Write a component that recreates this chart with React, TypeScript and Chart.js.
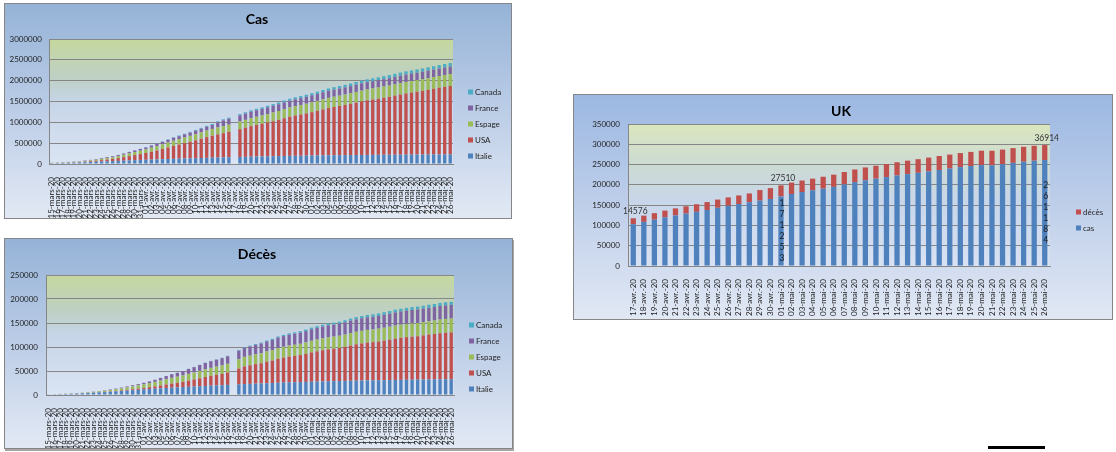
import { useEffect, useRef } from "react"
import { Chart, registerables } from "chart.js"

Chart.register(...registerables)

// categories (15 March -> 26 May, one empty day on 17 April)
const jours = [
  "15-mars-20", "16-mars-20", "17-mars-20", "18-mars-20", "19-mars-20", "20-mars-20", "21-mars-20", "22-mars-20", "23-mars-20",
  "24-mars-20", "25-mars-20", "26-mars-20", "27-mars-20", "28-mars-20", "29-mars-20", "30-mars-20", "31-mars-20",
  "01-avr.-20", "02-avr.-20", "03-avr.-20", "04-avr.-20", "05-avr.-20", "06-avr.-20", "07-avr.-20", "08-avr.-20", "09-avr.-20",
  "10-avr.-20", "11-avr.-20", "12-avr.-20", "13-avr.-20", "14-avr.-20", "15-avr.-20", "16-avr.-20", "17-avr.-20", "18-avr.-20",
  "19-avr.-20", "20-avr.-20", "21-avr.-20", "22-avr.-20", "23-avr.-20", "24-avr.-20", "25-avr.-20", "26-avr.-20", "27-avr.-20",
  "28-avr.-20", "29-avr.-20", "30-avr.-20",
  "01-mai-20", "02-mai-20", "03-mai-20", "04-mai-20", "05-mai-20", "06-mai-20", "07-mai-20", "08-mai-20", "09-mai-20",
  "10-mai-20", "11-mai-20", "12-mai-20", "13-mai-20", "14-mai-20", "15-mai-20", "16-mai-20", "17-mai-20", "18-mai-20",
  "19-mai-20", "20-mai-20", "21-mai-20", "22-mai-20", "23-mai-20", "24-mai-20", "25-mai-20", "26-mai-20",
]

// Cas
const italieCas = [
  17660, 21157, 24747, 27980, 31506, 35713, 41035, 47021, 53578, 59138, 63927, 69176, 74386, 80589, 86498, 92472, 97689,
  101739, 105792, 110574, 115242, 119827, 124632, 128948, 132547, 135586, 139422, 143626, 147577, 152271, 156363, 159516, 162488,
  null, 168941, 172434, 175925, 178972, 181228, 183957, 187327, 189973, 192994, 195351, 197675, 199414, 201505, 203591, 205463,
  207428, 209328, 210717, 211938, 213013, 214457, 215858, 217185, 218268, 219070, 219814, 221216, 222104, 223096, 223885, 224760,
  225435, 225886, 226699, 227364, 228006, 228658, 229327, 229858,
]
const usaCas = [
  2179, 2726, 3499, 4632, 6421, 7786, 13680, 19101, 25493, 33746, 43667, 53740, 65778, 83836, 101657, 121465, 140909,
  161831, 188172, 213242, 243622, 275367, 308650, 336802, 366317, 397121, 428654, 462780, 496535, 526396, 555313, 580619, 607670,
  null, 667801, 699706, 732197, 758809, 784326, 811865, 840351, 869170, 905358, 938154, 965785, 988197, 1012582, 1039909, 1069424,
  1103461, 1132539, 1158040, 1180375, 1204351, 1229331, 1257023, 1283929, 1309550, 1329260, 1347881, 1369376, 1390406, 1417774,
  1442824, 1467820, 1486757, 1508308, 1528568, 1551853, 1577147, 1600937, 1622612, 1643246,
]
const espagneCas = [
  5232, 6391, 7798, 9942, 11748, 13910, 17963, 20410, 25374, 28603, 35136, 39885, 49515, 57786, 65719, 73235, 80110,
  87956, 95923, 104118, 112065, 119199, 126168, 131646, 136675, 141942, 148220, 153222, 158273, 163027, 166831, 170099, 172541,
  null, 182816, 188068, 191726, 195944, 200210, 204178, 208389, 213024, 219764, 223759, 226629, 229422, 232128, 236899, 239639,
  242988, 245567, 247122, 248301, 250561, 253682, 256855, 260117, 262783, 264663, 268143, 269520, 271095, 272646, 274367, 276505,
  277719, 278188, 278803, 279524, 280117, 281904, 282370, 282852,
]
const franceCas = [
  3667, 4480, 5423, 6633, 7730, 9134, 10995, 12726, 14431, 16214, 20123, 22622, 25600, 29551, 33402, 38105, 40708,
  45170, 52827, 57749, 59929, 65202, 69500, 71412, 75343, 79163, 83057, 87366, 91738, 94863, 121712, 136779, 143303,
  null, 147863, 149149, 155193, 156357, 157125, 159426, 160479, 161845, 162220, 162942, 163488, 164797, 166050, 167053, 167886,
  168518, 168925, 169583, 170694, 171324, 172465, 173971, 174318, 174758, 175027, 175981, 176712, 177423, 178225, 178994, 179630,
  179693, 180051, 180933, 181700, 182036, 182219, 182584, 182709,
]
const canadaCas = [
  154, 200, 252, 415, 478, 657, 800, 943, 1277, 1469, 2088, 2790, 3251, 4042, 4682, 5576, 6280,
  7398, 8527, 9560, 11284, 12437, 12978, 15756, 16563, 17872, 19141, 20654, 22059, 23316, 24298, 25680, 27035,
  null, 30106, 31927, 33383, 35056, 36829, 38422, 40190, 42110, 43888, 45354, 46895, 48033, 49616, 51150, 52865,
  54457, 56343, 57926, 59474, 60772, 62046, 63496, 64922, 66434, 67702, 68918, 70091, 71264, 72419, 73568, 74613,
  75864, 77002, 78072, 79101, 80142, 81324, 82480, 83621,
]

// Décès
const italieDeces = [
  1266, 1441, 1809, 2158, 2503, 2978, 3405, 4032, 4825, 5476, 6077, 6820, 7503, 8215, 9134, 10023, 10779,
  11591, 12428, 13155, 13915, 14681, 15362, 15887, 16523, 17127, 17669, 18279, 18849, 19468, 19899, 20465, 21067,
  null, 22170, 22745, 23227, 23660, 24114, 24648, 25085, 25549, 25969, 26384, 26644, 26977, 27359, 27682, 27967,
  28236, 28710, 28884, 29079, 29315, 29684, 29958, 30201, 30395, 30560, 30739, 30911, 31106, 31368, 31610, 31763,
  31908, 32007, 32169, 32330, 32486, 32616, 32735, 32785,
]
const usaDeces = [
  47, 54, 63, 85, 108, 118, 200, 244, 307, 427, 552, 706, 942, 1209, 1581, 2026, 2467,
  2978, 3873, 4757, 5926, 7087, 8407, 9619, 10783, 12722, 14695, 16478, 18586, 20463, 22020, 23529, 25832,
  null, 32916, 36773, 38664, 40661, 42094, 44845, 46622, 49954, 51949, 53755, 54881, 56219, 58355, 60967, 62996,
  64943, 66369, 67682, 68922, 71064, 73431, 75662, 77180, 78795, 79526, 80682, 82356, 84119, 85898, 87530, 88754,
  89562, 90347, 91921, 93439, 94702, 95979, 97087, 97720,
]
const espagneDeces = [
  133, 195, 289, 342, 533, 623, 830, 1043, 1375, 1772, 2311, 2808, 3647, 4365, 5138, 5982, 6803,
  7716, 8464, 9387, 10348, 11198, 11947, 12641, 13341, 14045, 14792, 15447, 16081, 16606, 17209, 17756, 18056,
  null, 19315, 20002, 20043, 20453, 20852, 21282, 21717, 22157, 22524, 22902, 23190, 23521, 23822, 24275, 24543,
  24824, 25100, 25264, 25428, 25613, 25857, 26070, 26299, 26478, 26621, 26744, 26920, 27104, 27321, 27459, 27563,
  27650, 27709, 27778, 27888, 27940, 28628, 28678, 28752,
]
const franceDeces = [
  79, 91, 127, 148, 175, 264, 372, 450, 562, 674, 860, 1100, 1331, 1696, 1995, 2314, 2606,
  3024, 3523, 4403, 5387, 6507, 7560, 8078, 8911, 10328, 10869, 12210, 13197, 13832, 14393, 14967, 15729,
  null, 17920, 18681, 19323, 19718, 20265, 20796, 21340, 21856, 22245, 22614, 22856, 23293, 23660, 24087, 24376,
  24594, 24760, 24895, 25201, 25531, 25809, 25987, 26230, 26310, 26380, 26643, 26991, 27074, 27425, 27529, 27625,
  28108, 28239, 28022, 28132, 28215, 28289, 28332, 28367,
]
const canadaDeces = [
  1, 1, 1, 4, 8, 9, 12, 12, 19, 21, 25, 26, 35, 39, 54, 64, 80,
  101, 109, 139, 179, 218, 259, 339, 375, 407, 503, 557, 654, 714, 781, 895, 1010,
  null, 1354, 1399, 1563, 1725, 1908, 2075, 2251, 2422, 2563, 2702, 2859, 2996, 3181, 3379, 3566,
  3684, 3827, 3971, 4093, 4232, 4408, 4569, 4697, 4871, 4996, 5169, 5300, 5472, 5562, 5702, 5782,
  5903, 5964, 6053, 6146, 6250, 6355, 6424, 6545,
]

// UK
const ukJours = [
  "17-avr.-20", "18-avr.-20", "19-avr.-20", "20-avr.-20", "21-avr.-20", "22-avr.-20", "23-avr.-20", "24-avr.-20",
  "25-avr.-20", "26-avr.-20", "27-avr.-20", "28-avr.-20", "29-avr.-20", "30-avr.-20",
  "01-mai-20", "02-mai-20", "03-mai-20", "04-mai-20", "05-mai-20", "06-mai-20", "07-mai-20", "08-mai-20", "09-mai-20",
  "10-mai-20", "11-mai-20", "12-mai-20", "13-mai-20", "14-mai-20", "15-mai-20", "16-mai-20", "17-mai-20", "18-mai-20",
  "19-mai-20", "20-mai-20", "21-mai-20", "22-mai-20", "23-mai-20", "24-mai-20", "25-mai-20", "26-mai-20",
]
const ukCas = [
  103093, 108692, 114217, 120067, 124743, 129044, 133495, 138078, 143464, 148377, 152840, 157149, 161145, 165221,
  171253, 177454, 182260, 186599, 190584, 194990, 201101, 206715, 211364, 215260, 219183, 223060, 226463, 229705,
  233151, 236711, 240161, 243695, 246406, 248818, 248293, 250908, 254195, 257154, 259559, 261184,
]
const ukDeces = [
  14576, 15464, 16060, 16509, 17337, 18100, 18738, 19506, 20319, 20732, 21092, 21678, 26097, 26711,
  27510, 28131, 28446, 28734, 29427, 30076, 30615, 31241, 31587, 31855, 32065, 32692, 33186, 33614,
  33998, 34466, 34466, 34636, 34796, 35341, 35704, 36042, 36393, 36675, 36793, 36914,
]
// which days carry a value label
const ukDecesLabelJours = [0, 14, 39]
const ukCasLabelJours = [14, 39]

const BLEU = "#4f81bd"
const ROUGE = "#c0504d"
const VERT = "#9bbb59"
const VIOLET = "#8064a2"
const CYAN = "#4bacc6"
const GRILLE = "#868686"
const TEXTE = "#1f1f1f"

type Decor = {
  title: string
  titleX: number
  titleY: number
  legendX: number
  legendY: number
  stops: [number, string][]
}

// plot area gradient, title and right-hand legend
function decorPlugin(d: Decor) {
  return {
    id: "decor",
    beforeDraw(chart: any) {
      const { ctx, chartArea: a } = chart
      const g = ctx.createLinearGradient(0, a.top, 0, a.bottom)
      d.stops.forEach(([o, c]) => g.addColorStop(o, c))
      ctx.save()
      ctx.fillStyle = g
      ctx.fillRect(a.left, a.top, a.right - a.left, a.bottom - a.top)
      ctx.restore()
    },
    afterDraw(chart: any) {
      const ctx = chart.ctx
      ctx.save()
      ctx.fillStyle = "#000"
      ctx.font = "bold 14px Lato"
      ctx.textAlign = "center"
      ctx.textBaseline = "alphabetic"
      ctx.fillText(d.title, d.titleX, d.titleY)
      ctx.font = "8px Lato"
      ctx.textAlign = "left"
      ctx.textBaseline = "middle"
      const items = [...chart.data.datasets].reverse()
      items.forEach((ds: any, i: number) => {
        const y = d.legendY + i * 16
        ctx.fillStyle = ds.backgroundColor
        ctx.fillRect(d.legendX, y - 2.5, 5, 5)
        ctx.fillStyle = TEXTE
        ctx.fillText(ds.label, d.legendX + 7, y)
      })
      ctx.restore()
    },
  }
}

const ukLabels = {
  id: "ukLabels",
  afterDatasetsDraw(chart: any) {
    const ctx = chart.ctx
    const cas = chart.getDatasetMeta(0)
    const deces = chart.getDatasetMeta(1)
    ctx.save()
    ctx.font = "8.5px Lato"
    ctx.fillStyle = "#333"
    ctx.textAlign = "center"
    ctx.textBaseline = "alphabetic"
    ukDecesLabelJours.forEach((i) => {
      const bar = deces.data[i]
      ctx.fillText(String(ukDeces[i]), bar.x + 2, bar.y - 4)
    })
    ctx.fillStyle = "#1a1a1a"
    ctx.textBaseline = "middle"
    ukCasLabelJours.forEach((i) => {
      const bar = cas.data[i]
      const chars = String(ukCas[i]).split("")
      const mid = (bar.y + bar.base) / 2
      chars.forEach((c, j) => ctx.fillText(c, bar.x + 1, mid + (j - (chars.length - 1) / 2) * 11))
    })
    ctx.restore()
  },
}

type Opts = {
  labels: string[]
  datasets: any[]
  max: number
  step: number
  yWidth: number
  xHeight: number
  top: number
  right: number
  tickPad: number
  plugins: any[]
}

function barConfig(o: Opts): any {
  const font = { family: "Lato", size: 8 }
  return {
    type: "bar",
    data: { labels: o.labels, datasets: o.datasets },
    options: {
      animation: false,
      responsive: false,
      layout: { padding: { left: 0, right: o.right, top: o.top, bottom: 0 } },
      plugins: {
        legend: { display: false },
        title: { display: false },
        tooltip: { enabled: false },
      },
      scales: {
        x: {
          stacked: true,
          grid: { display: false },
          border: { color: GRILLE, width: 1 },
          ticks: { autoSkip: false, minRotation: 90, maxRotation: 90, padding: 5, color: TEXTE, font },
          afterFit: (s: any) => {
            s.height = o.xHeight
          },
        },
        y: {
          stacked: true,
          min: 0,
          max: o.max,
          grid: { color: GRILLE, drawTicks: false },
          border: { color: GRILLE, width: 1 },
          ticks: { stepSize: o.step, padding: o.tickPad, color: TEXTE, font, callback: (v: any) => String(v) },
          afterFit: (s: any) => {
            s.width = o.yWidth
          },
        },
      },
    },
    plugins: o.plugins,
  }
}

function countries(italie: any[], usa: any[], espagne: any[], france: any[], canada: any[]) {
  const bar = { barPercentage: 0.6, categoryPercentage: 1 }
  return [
    { label: "Italie", data: italie, backgroundColor: BLEU, ...bar },
    { label: "USA", data: usa, backgroundColor: ROUGE, ...bar },
    { label: "Espage", data: espagne, backgroundColor: VERT, ...bar },
    { label: "France", data: france, backgroundColor: VIOLET, ...bar },
    { label: "Canada", data: canada, backgroundColor: CYAN, ...bar },
  ]
}

const vertStops: [number, string][] = [
  [0, "rgb(197,216,157)"],
  [0.3, "rgb(190,208,195)"],
  [0.5, "rgb(198,213,232)"],
  [1, "rgb(218,228,243)"],
]
const ukStops: [number, string][] = [
  [0, "rgb(218,230,190)"],
  [0.3, "rgb(204,218,212)"],
  [0.55, "rgb(200,214,234)"],
  [1, "rgb(216,226,243)"],
]

function ChartBox(props: {
  left: number
  top: number
  width: number
  height: number
  bg: string
  shadow?: boolean
  make: () => any
}) {
  const canvasRef = useRef<HTMLCanvasElement>(null)

  useEffect(() => {
    if (!canvasRef.current) return
    const chart = new Chart(canvasRef.current, props.make())
    return () => chart.destroy()
  }, [])

  return (
    <div
      style={{
        position: "absolute",
        left: props.left,
        top: props.top,
        width: props.width,
        height: props.height,
        boxSizing: "border-box",
        border: "1px solid #868686",
        background: props.bg,
        boxShadow: props.shadow ? "1px 2px 0 #a6a6a6" : "none",
      }}
    >
      <canvas
        ref={canvasRef}
        width={props.width - 2}
        height={props.height - 2}
        style={{ display: "block", width: props.width - 2, height: props.height - 2 }}
      />
    </div>
  )
}

export default function App() {
  const fond = "linear-gradient(to bottom, #95b3d7 0%, #bccde7 50%, #e2e9f4 100%)"
  const fondUk = "linear-gradient(to bottom, #9cb8e2 0%, #bfcfea 50%, #e1e8f4 100%)"

  return (
    <div style={{ position: "fixed", left: 0, top: 0, width: 1116, height: 452, background: "#fff", overflow: "hidden" }}>
      <ChartBox
        left={4}
        top={3}
        width={508}
        height={216}
        bg={fond}
        make={() =>
          barConfig({
            labels: jours,
            datasets: countries(italieCas, usaCas, espagneCas, franceCas, canadaCas),
            max: 3000000,
            step: 500000,
            yWidth: 44,
            xHeight: 54,
            top: 35,
            right: 58,
            tickPad: 7,
            plugins: [decorPlugin({ title: "Cas", titleX: 252, titleY: 20, legendX: 463, legendY: 88, stops: vertStops })],
          })
        }
      />
      <ChartBox
        left={4}
        top={238}
        width={509}
        height={211}
        bg={fond}
        shadow
        make={() =>
          barConfig({
            labels: jours,
            datasets: countries(italieDeces, usaDeces, espagneDeces, franceDeces, canadaDeces),
            max: 250000,
            step: 50000,
            yWidth: 41,
            xHeight: 53,
            top: 36,
            right: 58,
            tickPad: 8,
            plugins: [decorPlugin({ title: "Décès", titleX: 252, titleY: 20, legendX: 464, legendY: 86, stops: vertStops })],
          })
        }
      />
      <ChartBox
        left={573}
        top={94}
        width={540}
        height={226}
        bg={fondUk}
        make={() =>
          barConfig({
            labels: ukJours,
            datasets: [
              { label: "cas", data: ukCas, backgroundColor: BLEU, barPercentage: 0.5, categoryPercentage: 1 },
              { label: "décès", data: ukDeces, backgroundColor: ROUGE, barPercentage: 0.5, categoryPercentage: 1 },
            ],
            max: 350000,
            step: 50000,
            yWidth: 54,
            xHeight: 53,
            top: 29,
            right: 62,
            tickPad: 8,
            plugins: [
              decorPlugin({ title: "UK", titleX: 267, titleY: 21, legendX: 502, legendY: 117, stops: ukStops }),
              ukLabels,
            ],
          })
        }
      />
      <div style={{ position: "absolute", left: 988, top: 446, width: 57, height: 3, background: "#000" }} />
    </div>
  )
}
